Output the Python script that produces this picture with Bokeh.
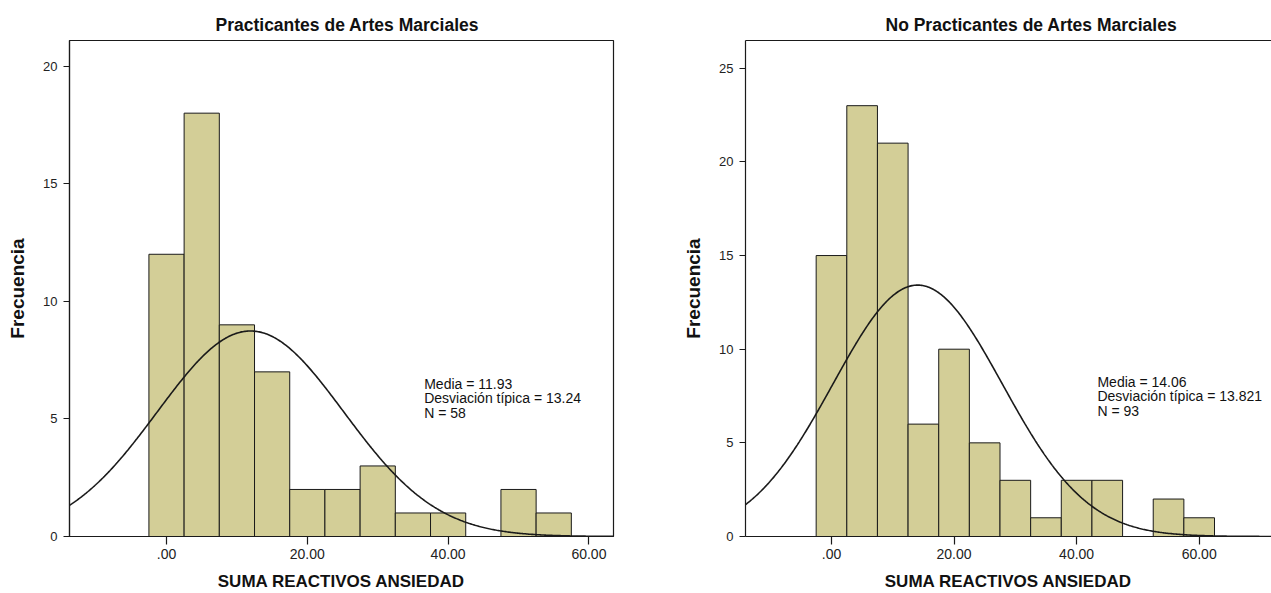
import numpy as np
from bokeh.plotting import figure
from bokeh.models import Range1d, FixedTicker, LinearAxis, Label
from bokeh.layouts import row
from bokeh.embed import file_html
from bokeh.resources import INLINE

# ---------------- data ----------------
bin_width = 5
left_title = "Practicantes de Artes Marciales"
left_centers = [0, 5, 10, 15, 20, 25, 30, 35, 40, 45, 50, 55]
left_counts = [12, 18, 9, 7, 2, 2, 3, 1, 1, 0, 2, 1]
left_mean, left_sd, left_n = 11.93, 13.24, 58
left_stats = ["Media = 11.93", "Desviación típica = 13.24", "N = 58"]

right_title = "No Practicantes de Artes Marciales"
right_centers = [0, 5, 10, 15, 20, 25, 30, 35, 40, 45, 50, 55, 60]
right_counts = [15, 23, 21, 6, 10, 5, 3, 1, 3, 3, 0, 2, 1]
right_mean, right_sd, right_n = 14.06, 13.821, 93
right_stats = ["Media = 14.06", "Desviación típica = 13.821", "N = 93"]

x_ticks = [0, 20, 40, 60]
x_tick_labels = {0: ".00", 20: "20.00", 40: "40.00", 60: "60.00"}
left_y_ticks = [0, 5, 10, 15, 20]
right_y_ticks = [0, 5, 10, 15, 20, 25]

x_label = "SUMA REACTIVOS ANSIEDAD"
y_label = "Frecuencia"

BAR = "#D3CE97"
FONT = "Liberation Sans"
INK = "#1a1a1a"


def make(title, centers, counts, mean, sd, n, stats, yticks,
         width, height, xr, yr, mb, stat_xy, line_step, title_offset, full_outline):
    p = figure(width=width, height=height, output_backend="svg", toolbar_location=None,
               x_range=Range1d(*xr), y_range=Range1d(*yr),
               min_border_left=mb[0], min_border_right=mb[1],
               min_border_top=mb[2], min_border_bottom=mb[3])
    p.title.text = title
    p.title.align = "left"
    p.title.offset = title_offset
    p.title.standoff = 11
    p.title.text_font = FONT
    p.title.text_font_size = "17.5px"
    p.title.text_font_style = "bold"
    p.title.text_color = "#111111"
    p.grid.visible = False
    p.background_fill_color = "white"
    p.border_fill_color = "white"

    xa = p.below[0]
    ya = p.left[0]
    xa.ticker = FixedTicker(ticks=x_ticks)
    xa.major_label_overrides = x_tick_labels
    xa.axis_label = x_label
    ya.ticker = FixedTicker(ticks=yticks)
    ya.axis_label = y_label
    for ax in (xa, ya):
        ax.axis_label_text_font = FONT
        ax.axis_label_text_font_style = "bold"
        ax.axis_label_text_color = "#111111"
        ax.major_label_text_font = FONT
        ax.major_label_text_color = "#222222"
        ax.minor_tick_line_color = None
        ax.major_tick_in = 0
        ax.axis_line_color = INK
        ax.axis_line_width = 1.2
        ax.major_tick_line_color = INK
        ax.major_tick_line_width = 1.2
    xa.axis_label_text_font_size = "17px"
    xa.major_label_text_font_size = "14px"
    xa.major_tick_out = 8
    xa.major_label_standoff = 4
    xa.axis_label_standoff = 10
    ya.axis_label_text_font_size = "19px"
    ya.major_label_text_font_size = "13px"
    ya.major_tick_out = 6
    ya.major_label_standoff = 6
    ya.axis_label_standoff = 12

    if full_outline:
        p.outline_line_color = INK
        p.outline_line_width = 1.2
    else:
        p.outline_line_color = None
        top = LinearAxis(major_tick_line_color=None, minor_tick_line_color=None,
                         major_label_text_font_size="0px", axis_line_color=INK,
                         axis_line_width=1.2, ticker=FixedTicker(ticks=[]),
                         major_label_standoff=0)
        p.add_layout(top, "above")

    left = [c - bin_width / 2 for c in centers]
    right = [c + bin_width / 2 for c in centers]
    p.quad(left=left, right=right, bottom=0, top=counts,
           fill_color=BAR, line_color=INK, line_width=1)

    xs = np.linspace(xr[0], xr[1], 500)
    ys = n * bin_width * np.exp(-0.5 * ((xs - mean) / sd) ** 2) / (sd * np.sqrt(2 * np.pi))
    p.line(xs, ys, line_color=INK, line_width=1.6)

    for i, s in enumerate(stats):
        p.add_layout(Label(x=stat_xy[0], y=stat_xy[1], y_offset=-i * line_step, text=s,
                           text_font=FONT, text_font_size="14px", text_color="#111111",
                           text_baseline="middle", text_align="left"))
    return p


p1 = make(left_title, left_centers, left_counts, left_mean, left_sd, left_n, left_stats,
          left_y_ticks, 641, 593, (-13.78, 63.49), (0, 21.09), (69, 28, 40, 57),
          (36.6, 6.5), 14.5, 146, True)
p2 = make(right_title, right_centers, right_counts, right_mean, right_sd, right_n, right_stats,
          right_y_ticks, 630, 593, (-14.03, 71.8), (0, 26.48), (104, 0, 40, 57),
          (43.4, 8.25), 14.5, 140, False)

layout = row(p1, p2)
open("out.html", "w").write(file_html(layout, INLINE))
